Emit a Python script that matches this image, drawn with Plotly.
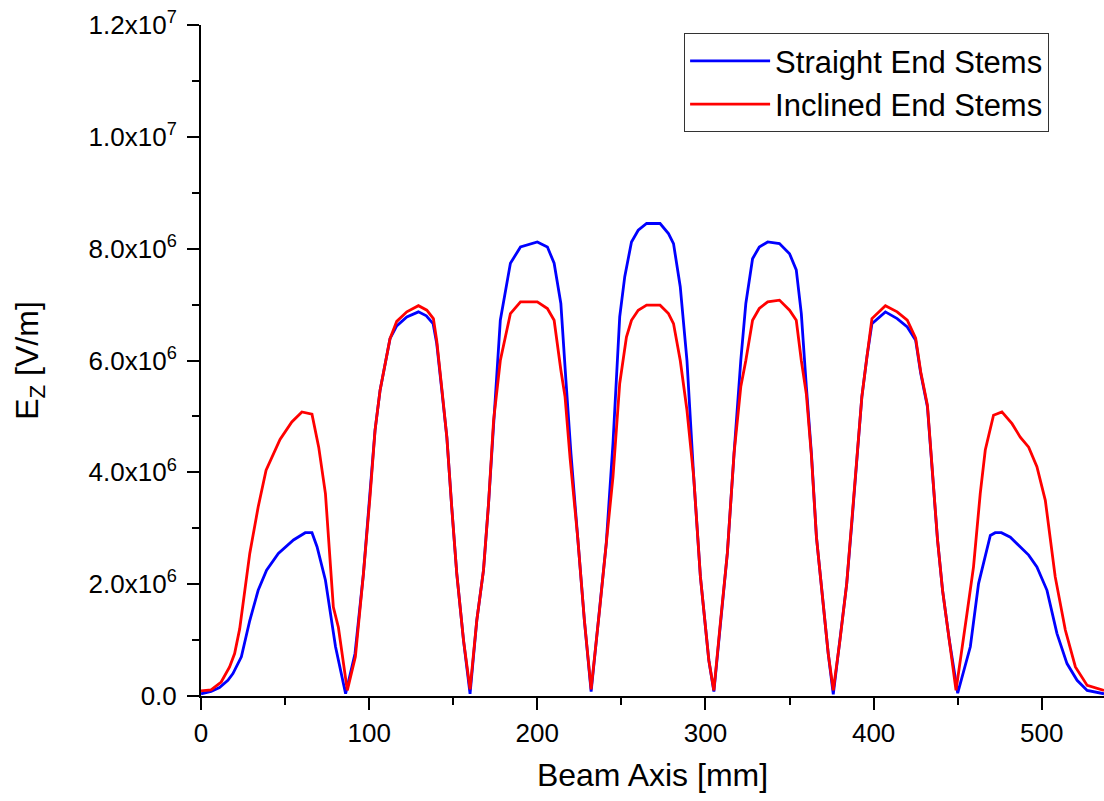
import plotly.graph_objects as go

# Straight End Stems (blue)
x_straight = [0, 6, 11, 16, 19, 24, 29, 34, 39, 46, 55, 62, 66, 69, 74, 80, 86,
              91.6, 96.6, 100.5, 103.5, 106.5, 109.5, 112.4, 116.4, 122.4, 129.3, 134, 138, 140.2, 143.2, 146.2, 149.1, 152.1, 156.1, 160,
              164, 168, 171, 174, 178, 184, 190, 200, 206, 210, 214, 217, 220, 224, 228, 232,
              237, 241, 245, 249, 252, 256, 260, 265, 273, 278, 281, 285, 289, 293, 297, 302, 305,
              309, 313, 317, 321, 324, 328, 332, 337, 344, 350, 354, 357, 360, 363, 366, 370, 373, 376,
              380, 384, 387, 390, 393, 396, 399, 407, 414, 420, 425, 428, 432, 435, 438, 441, 445, 450,
              457.5, 462.4, 466.4, 469.4, 472.3, 476, 481.3, 487.2, 492.2, 497.1, 503.1, 509, 515, 521, 527, 537]
ez_straight = [0.04, 0.08, 0.15, 0.28, 0.4, 0.7, 1.35, 1.89, 2.25, 2.55, 2.79, 2.92, 2.92, 2.67, 2.07, 0.88, 0.04,
               0.76, 2.19, 3.56, 4.75, 5.47, 5.95, 6.39, 6.62, 6.78, 6.87, 6.80, 6.66, 6.30, 5.47, 4.63, 3.38, 2.19, 1.0, 0.04,
               1.35, 2.25, 3.44, 4.93, 6.72, 7.74, 8.03, 8.12, 8.03, 7.74, 7.02, 5.65, 4.34, 2.84, 1.35, 0.08,
               1.53, 2.73, 4.52, 6.78, 7.5, 8.12, 8.33, 8.45, 8.45, 8.27, 8.09, 7.32, 6.0, 3.92, 2.13, 0.64, 0.08,
               1.35, 2.55, 4.34, 6.0, 7.02, 7.82, 8.03, 8.12, 8.09, 7.91, 7.62, 6.84, 5.53, 4.34, 2.84, 1.65, 0.76, 0.03,
               1.0, 2.01, 3.08, 4.28, 5.35, 6.06, 6.66, 6.87, 6.75, 6.6, 6.36, 5.77, 5.17, 3.98, 2.79, 1.89, 1.0, 0.05,
               0.88, 2.01, 2.49, 2.87, 2.92, 2.92, 2.84, 2.67, 2.52, 2.31, 1.89, 1.12, 0.58, 0.28, 0.1, 0.04]

# Inclined End Stems (red)
x_inclined = [0, 6, 12, 17, 20, 23, 29, 34, 38.7, 44, 47, 54, 60, 66, 70, 74, 78.7, 81.7, 87,
              91.8, 96.6, 100.5, 103.5, 106.5, 109.5, 112.4, 116.4, 122.4, 129.3, 134.3, 138.2, 140.2, 143.2, 146.2, 149.1, 152.1, 156.1, 160,
              164, 168, 171, 174, 178, 184, 190, 200, 206, 210, 214, 216.5, 219.5, 224, 228, 232,
              237, 241, 245, 249, 253, 256, 260, 265, 273, 278, 281, 285, 289, 293, 297, 302, 305,
              309, 313, 317, 321, 324, 328, 332, 337, 344, 350, 354, 357, 360, 363, 366, 370, 373, 376,
              380, 384, 387, 390, 393, 396, 399, 407, 414, 420, 425, 428, 432, 435, 438, 441, 445, 449,
              455.5, 459.4, 463.4, 466.4, 471.3, 476.3, 482.3, 487.2, 492.2, 497.1, 502.1, 508, 514, 520, 527, 537]
ez_inclined = [0.09, 0.11, 0.25, 0.52, 0.76, 1.2, 2.55, 3.38, 4.04, 4.4, 4.59, 4.9, 5.08, 5.04, 4.45, 3.62, 1.59, 1.23, 0.1,
               0.7, 2.19, 3.56, 4.75, 5.47, 5.95, 6.39, 6.70, 6.87, 6.98, 6.9, 6.75, 6.35, 5.5, 4.63, 3.38, 2.19, 1.0, 0.12,
               1.35, 2.25, 3.44, 4.93, 6.0, 6.84, 7.05, 7.05, 6.93, 6.72, 5.83, 5.35, 4.25, 2.84, 1.35, 0.12,
               1.53, 2.73, 3.92, 5.59, 6.42, 6.72, 6.9, 6.99, 6.99, 6.84, 6.66, 6.0, 5.11, 3.92, 2.13, 0.64, 0.1,
               1.35, 2.55, 4.34, 5.53, 6.0, 6.72, 6.93, 7.05, 7.08, 6.9, 6.72, 6.0, 5.4, 4.3, 2.84, 1.65, 0.76, 0.1,
               1.0, 2.01, 3.08, 4.28, 5.35, 6.06, 6.75, 6.98, 6.87, 6.72, 6.40, 5.8, 5.2, 4.0, 2.79, 1.89, 1.0, 0.1,
               1.47, 2.31, 3.62, 4.4, 5.02, 5.08, 4.87, 4.63, 4.45, 4.1, 3.5, 2.13, 1.18, 0.52, 0.19, 0.1]

y_tick_vals = [0, 2e6, 4e6, 6e6, 8e6, 1.0e7, 1.2e7]
y_tick_text = ["0.0", "2.0x10<sup>6</sup>", "4.0x10<sup>6</sup>", "6.0x10<sup>6</sup>",
               "8.0x10<sup>6</sup>", "1.0x10<sup>7</sup>", "1.2x10<sup>7</sup>"]
x_tick_vals = [0, 100, 200, 300, 400, 500]

FONT = "Liberation Sans, Arial, sans-serif"

fig = go.Figure()
fig.add_trace(go.Scatter(x=x_straight, y=[v * 1e6 for v in ez_straight], mode="lines",
                         name="Straight End Stems", line=dict(color="#0000FF", width=2.8)))
fig.add_trace(go.Scatter(x=x_inclined, y=[v * 1e6 for v in ez_inclined], mode="lines",
                         name="Inclined End Stems", line=dict(color="#FF0000", width=2.8)))

fig.update_layout(
    width=1104, height=801,
    margin=dict(l=201, r=0, t=25, b=105),
    paper_bgcolor="white", plot_bgcolor="white",
    font=dict(family=FONT, color="black", size=26),
    showlegend=True,
    legend=dict(x=0.535, y=0.9877, xanchor="left", yanchor="top",
                bgcolor="white", bordercolor="#333333", borderwidth=1,
                font=dict(size=31, family=FONT, color="black"),
                itemwidth=80, tracegroupgap=0),
    xaxis=dict(range=[0, 537], tickvals=x_tick_vals, showgrid=False, zeroline=False,
               showline=True, linecolor="black", linewidth=2,
               ticks="outside", ticklen=12, tickwidth=2, tickcolor="black",
               minor=dict(dtick=50, tick0=0, ticks="outside", ticklen=7, tickwidth=2, tickcolor="black", showgrid=False),
               tickfont=dict(size=26), ticklabelstandoff=1,
               title=dict(text="Beam Axis [mm]", font=dict(size=32), standoff=16)),
    yaxis=dict(range=[0, 1.2e7], tickvals=y_tick_vals, ticktext=y_tick_text, showgrid=False, zeroline=False,
               showline=True, linecolor="black", linewidth=2,
               ticks="outside", ticklen=12, tickwidth=2, tickcolor="black",
               minor=dict(dtick=1e6, tick0=0, ticks="outside", ticklen=7, tickwidth=2, tickcolor="black", showgrid=False),
               tickfont=dict(size=26), ticklabelstandoff=5,
               title=dict(text="E<sub>Z</sub> [V/m]", font=dict(size=32), standoff=40)),
)

fig.write_html("out.html")
